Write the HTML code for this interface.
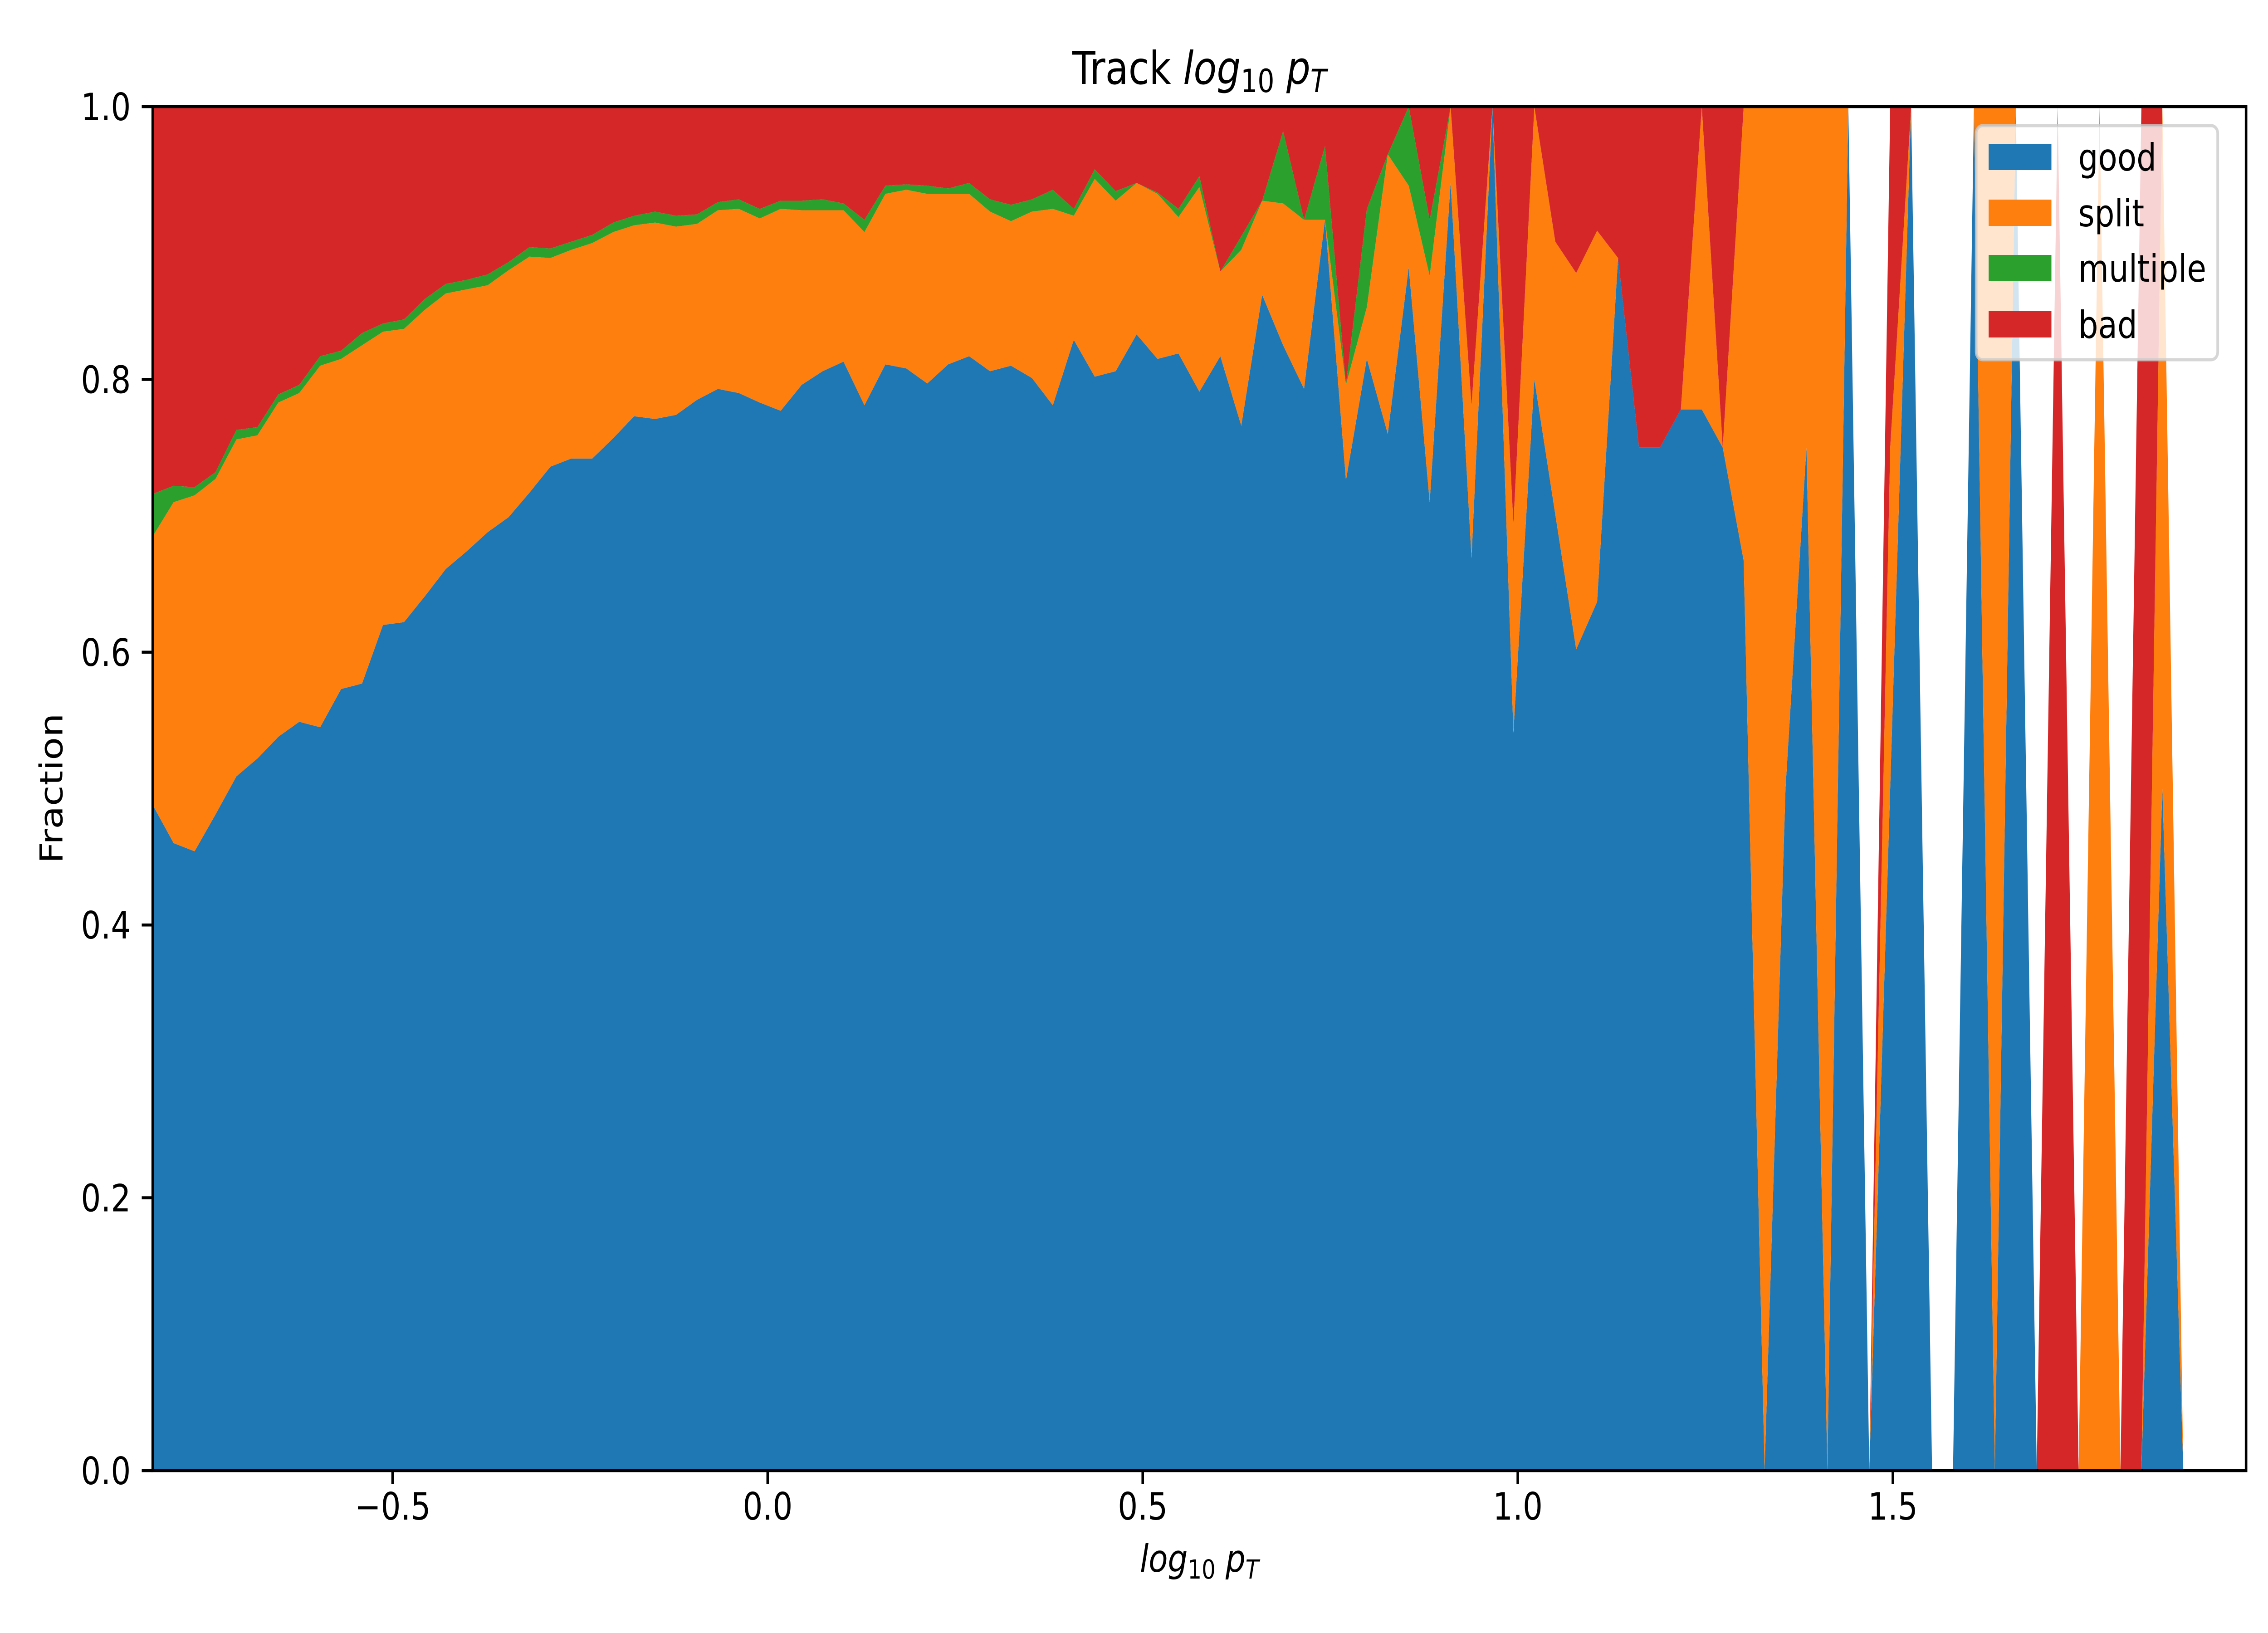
<!DOCTYPE html>
<html><head><meta charset="utf-8"><style>
html,body{margin:0;padding:0;background:#fff;width:100%;height:100%;overflow:hidden;}
svg{display:block;width:100vw;height:100vh;font-family:"DejaVu Sans","Liberation Sans",sans-serif;}
</style></head><body>
<svg id="chart" viewBox="0 0 6000 3600" preserveAspectRatio="none" xmlns="http://www.w3.org/2000/svg">
<rect width="6000" height="3600" fill="#fff"/>
<defs><clipPath id="plotclip"><rect x="404" y="235" width="5538" height="3007"/></clipPath></defs>
<g id="areas" clip-path="url(#plotclip)"></g>
<g id="axes"></g>
<text x="3173" y="185" font-size="100" text-anchor="middle">Track <tspan font-style="italic">log</tspan><tspan font-size="70" dy="18">10</tspan><tspan dy="-18"> </tspan><tspan font-style="italic">p</tspan><tspan font-style="italic" font-size="70" dy="18">T</tspan></text>
<text x="3173" y="3465" font-size="83" text-anchor="middle"><tspan font-style="italic">log</tspan><tspan font-size="58" dy="15">10</tspan><tspan dy="-15"> </tspan><tspan font-style="italic">p</tspan><tspan font-style="italic" font-size="58" dy="15">T</tspan></text>
<text x="0" y="0" font-size="83" text-anchor="middle" transform="translate(165,1738) rotate(-90)">Fraction</text>
<g id="legend"></g>
</svg>
<script>
const binStart = -0.8198;
const binEnd = 1.9709;
const nBins = 101;
const seriesNames = ["good","split","multiple","bad"];
const seriesColors = ["#1f77b4","#ff7f0e","#2ca02c","#d62728"];
const good = [.488,.460,.454,.481,.509,.522,.538,.549,.545,.573,.577,.620,.622,.641,.661,.674,.688,.699,.717,.736,.742,.742,.757,.773,.771,.774,.785,.793,.790,.783,.777,.796,.806,.813,.781,.811,.808,.797,.811,.817,.806,.810,.801,.781,.829,.802,.806,.833,.815,.819,.791,.817,.766,.862,.825,.793,.917,.726,.815,.760,.882,.710,.944,.669,1,.541,.800,.701,.602,.637,.889,.750,.750,.778,.778,.750,.667,0,.5,.75,0,1,0,.5,1,0,0,1,0,1,0,0,0,0,0,0,.5,0,0,0,0];
const split = [.197,.250,.261,.246,.247,.237,.245,.241,.265,.242,.248,.215,.215,.210,.202,.192,.181,.181,.173,.153,.153,.158,.151,.140,.144,.138,.129,.131,.135,.135,.148,.128,.118,.111,.127,.125,.131,.139,.125,.119,.117,.106,.122,.144,.091,.145,.125,.111,.121,.100,.150,.062,.129,.069,.104,.124,0,.070,.038,.205,.060,.166,.056,.112,0,.153,.200,.200,.276,.272,0,0,0,0,.222,0,.333,1,.5,.25,1,0,0,.25,0,0,0,0,1,0,0,0,0,1,0,0,.5,0,0,0,0];
const multiple = [.031,.012,.006,.005,.007,.006,.006,.006,.007,.006,.009,.006,.007,.008,.007,.007,.008,.006,.007,.007,.006,.006,.007,.007,.008,.008,.007,.006,.007,.007,.006,.007,.008,.005,.009,.006,.004,.006,.004,.008,.009,.012,.009,.014,.005,.007,.007,0,.001,.006,.008,0,.010,0,.053,0,.054,0,.072,0,.058,.041,0,0,0,0,0,0,0,0,0,0,0,0,0,0,0,0,0,0,0,0,0,0,0,0,0,0,0,0,0,0,0,0,0,0,0,0,0,0,0];
const bad = [.284,.278,.279,.268,.237,.235,.211,.204,.183,.179,.166,.159,.156,.141,.130,.127,.123,.114,.103,.104,.099,.094,.085,.080,.077,.080,.079,.070,.068,.075,.069,.069,.068,.071,.083,.058,.057,.058,.060,.056,.068,.072,.068,.061,.075,.046,.062,.056,.063,.075,.051,.121,.095,.069,.018,.083,.029,.204,.075,.035,0,.083,0,.219,0,.306,0,.099,.122,.091,.111,.250,.250,.222,0,.250,0,0,0,0,0,0,0,.25,0,0,0,0,0,0,0,1,0,0,0,1,0,0,0,0,0];
const xTicks = [-0.5,0.0,0.5,1.0,1.5];
const xTickLabels = ["\u22120.5","0.0","0.5","1.0","1.5"];
const yTicks = [0,0.2,0.4,0.6,0.8,1.0];
const yTickLabels = ["0.0","0.2","0.4","0.6","0.8","1.0"];

const PL=404, PR=5942, PT=235, PB=3242;
const NS="http://www.w3.org/2000/svg";
function xScale(v){return PL+(v-binStart)/(binEnd-binStart)*(PR-PL);}
function yScale(v){return PB-v*(PB-PT);}
function binX(i){return binStart+i*(binEnd-binStart)/(nBins-1);}
function mk(tag,attrs){const e=document.createElementNS(NS,tag);for(const k in attrs)e.setAttribute(k,attrs[k]);return e;}

const series=[good,split,multiple,bad];
const areas=document.getElementById('areas');
let lower=new Array(nBins).fill(0);
series.forEach((s,k)=>{
  const upper=lower.map((v,i)=>v+s[i]);
  const pts=[];
  for(let i=0;i<nBins;i++)pts.push(xScale(binX(i)).toFixed(1)+","+yScale(upper[i]).toFixed(1));
  for(let i=nBins-1;i>=0;i--)pts.push(xScale(binX(i)).toFixed(1)+","+yScale(lower[i]).toFixed(1));
  const p=mk('polygon',{points:pts.join(' '),fill:seriesColors[k]});
  
  
  areas.appendChild(p);
  lower=upper;
});

const axes=document.getElementById('axes');
const frame=mk('rect',{x:PL,y:PT,width:PR-PL,height:PB-PT,fill:'none',stroke:'#000','stroke-width':6.7});


axes.appendChild(frame);
xTicks.forEach((v,i)=>{
  const x=xScale(v);
  const t=mk('line',{x1:x,x2:x,y1:PB,y2:PB+29,stroke:'#000','stroke-width':6.7});
  
  
  axes.appendChild(t);
  const l=mk('text',{x:x,y:3350,'font-size':83,'text-anchor':'middle'});
  l.textContent=xTickLabels[i];
  
  
  axes.appendChild(l);
});
yTicks.forEach((v,i)=>{
  const y=yScale(v);
  const t=mk('line',{x1:PL-29,x2:PL,y1:y,y2:y,stroke:'#000','stroke-width':6.7});
  
  
  axes.appendChild(t);
  const l=mk('text',{x:346,y:y+30,'font-size':83,'text-anchor':'end'});
  l.textContent=yTickLabels[i];
  
  
  axes.appendChild(l);
});

const legend=document.getElementById('legend');
const box=mk('rect',{x:5228,y:277,width:639,height:516,rx:17,fill:'#fff','fill-opacity':0.8,stroke:'#cccccc','stroke-opacity':0.8,'stroke-width':7});


legend.appendChild(box);
const rowY=[346,469,591,715];
seriesNames.forEach((n,k)=>{
  const sw=mk('rect',{x:5261,y:rowY[k]-29,width:166,height:58,fill:seriesColors[k]});
  
  
  legend.appendChild(sw);
  const tx=mk('text',{x:5498,y:rowY[k]+30,'font-size':83});
  tx.textContent=n;
  
  
  legend.appendChild(tx);
});
</script>
</body></html>
